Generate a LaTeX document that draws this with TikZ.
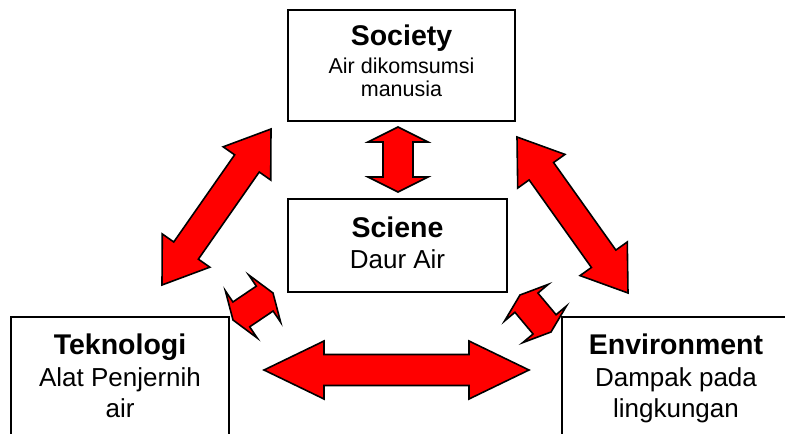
\documentclass[tikz,border=0pt]{standalone}
\usepackage{fontspec}
\setmainfont{Liberation Sans}
\usepackage{tikz}
\usetikzlibrary{shapes,arrows,calc}
\tikzstyle{blockWH} = [rectangle, draw, fill=white, line width=1.8pt, align=center, inner sep=0pt]
\tikzstyle{arrowRD} = [draw, fill=red, line width=1.6pt, line join=miter]
\newcommand{\titleTX}[1]{{\bfseries\fontsize{28.5}{32}\selectfont #1}}
% flecha doble de #1 a #2: largo de cabeza #3, media anchura de cabeza #4, media anchura del cuerpo #5
\newcommand{\dblarrow}[5]{%
  \path [arrowRD] (#1)
    -- ($(#1)!#3!(#2)!#4!90:(#2)$) -- ($(#1)!#3!(#2)!#5!90:(#2)$)
    -- ($(#2)!#3!(#1)!#5!-90:(#1)$) -- ($(#2)!#3!(#1)!#4!-90:(#1)$)
    -- (#2)
    -- ($(#2)!#3!(#1)!#4!90:(#1)$) -- ($(#2)!#3!(#1)!#5!90:(#1)$)
    -- ($(#1)!#3!(#2)!#5!-90:(#2)$) -- ($(#1)!#3!(#2)!#4!-90:(#2)$)
    -- cycle;}

\begin{document}
\begin{tikzpicture}[node distance = 2cm, auto, x=1pt, y=-1pt,
  % fuente de las cajas: Arial (Liberation Sans)
  font=\fontsize{26}{31}\selectfont
  ]
    \useasboundingbox (0,0) rectangle (785,434);

    % nodes
    \node [blockWH, minimum width=227pt, minimum height=111pt, text depth=9pt,
      font=\fontsize{21.5}{23}\selectfont] (society) at (401.5,65.5)
      {\titleTX{Society}\\[5pt] Air dikomsumsi\\ manusia};
    \node [blockWH, below of = society, node distance = 180pt, xshift=-4pt,
      minimum width=219pt, minimum height=93pt, text depth=6pt] (sciene)
      {\titleTX{Sciene}\\ Daur Air};
    \node [blockWH, minimum width=218pt, minimum height=126pt, text depth=8pt] (teknologi) at (120,380)
      {\titleTX{Teknologi}\\[1pt] Alat Penjernih\\ air};
    \node [blockWH, minimum width=228pt, minimum height=126pt, text depth=8pt] (environment) at (676,380)
      {\titleTX{Environment}\\[1pt] Dampak pada\\ lingkungan};

    % puntas de las flechas
    \coordinate (soc_sci) at (398,127);
    \coordinate (sci_soc) at (398,192);
    \coordinate (soc_tek) at (271,129);
    \coordinate (tek_soc) at (162,285);
    \coordinate (soc_env) at (517,137);
    \coordinate (env_soc) at (628,293);
    \coordinate (tek_env) at (264,370);
    \coordinate (env_tek) at (529,370);
    \coordinate (tek_sci) at (233,320);
    \coordinate (sci_tek) at (273,293);
    \coordinate (sci_env) at (520,295);
    \coordinate (env_sci) at (551,332);

    % edges
    \dblarrow{soc_sci}{sci_soc}{15pt}{30pt}{15pt}
    \dblarrow{soc_tek}{tek_soc}{42pt}{29pt}{15pt}
    \dblarrow{soc_env}{env_soc}{42pt}{29pt}{15pt}
    \dblarrow{tek_env}{env_tek}{60pt}{29pt}{15.5pt}
    \dblarrow{tek_sci}{sci_tek}{10pt}{28.5pt}{15pt}
    \dblarrow{sci_env}{env_sci}{10pt}{28.5pt}{15pt}

  \end{tikzpicture}
\end{document}
